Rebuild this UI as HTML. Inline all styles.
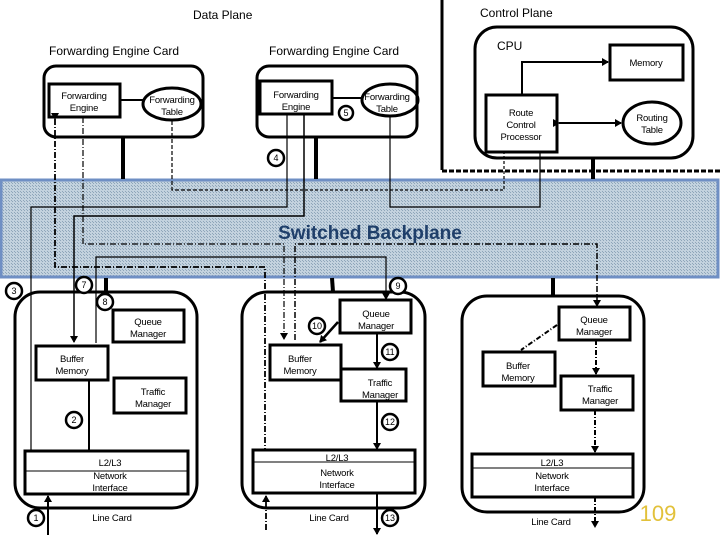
<!DOCTYPE html>
<html><head><meta charset="utf-8"><style>
html,body{margin:0;padding:0;background:#fff}
svg{display:block}
text{font-family:"Liberation Sans",sans-serif;fill:#000}
</style></head><body>
<svg width="720" height="540" viewBox="0 0 720 540" xmlns="http://www.w3.org/2000/svg">
<defs>
<pattern id="h" width="3" height="3" patternUnits="userSpaceOnUse">
<rect width="3" height="3" fill="#c3d2de"/><rect width="1" height="1" fill="#8fa6ba"/><rect x="2" y="2" width="1" height="1" fill="#8fa6ba"/>
</pattern>
<marker id="a" markerWidth="8" markerHeight="8" refX="6" refY="4" orient="auto" markerUnits="userSpaceOnUse"><path d="M0,0 L7,4 L0,8 z" fill="#000"/></marker>
</defs>

<rect x="1" y="180" width="717" height="97" fill="url(#h)" stroke="#6f8fc4" stroke-width="3"/>
<text x="370" y="239" text-anchor="middle" font-size="19" font-weight="bold" style="fill:#1f3f6a">Switched Backplane</text>

<g fill="none" stroke="#000">
<line x1="442" y1="0" x2="442" y2="170" stroke-width="3"/>
<line x1="442" y1="171" x2="720" y2="171" stroke-width="3" stroke-dasharray="5,2"/>

<rect x="44" y="66" width="159" height="71" rx="12" stroke-width="3"/>
<rect x="49" y="84" width="71" height="33" stroke-width="3"/>
<ellipse cx="172" cy="104" rx="29" ry="16" stroke-width="3"/>
<line x1="120" y1="100" x2="143" y2="100" stroke-width="2"/>
<line x1="123" y1="137" x2="123" y2="179" stroke-width="4"/>
<rect x="257" y="66" width="160" height="71" rx="12" stroke-width="3"/>
<rect x="260" y="81" width="72" height="33" stroke-width="3"/>
<ellipse cx="390" cy="100" rx="28" ry="16" stroke-width="3"/>
<line x1="332" y1="98" x2="362" y2="98" stroke-width="2"/>
<line x1="316" y1="137" x2="316" y2="179" stroke-width="4"/>

<rect x="475" y="27" width="218" height="131" rx="22" stroke-width="3"/>
<rect x="610" y="45" width="73" height="35" stroke-width="3"/>
<rect x="486" y="95" width="71" height="57" stroke-width="3"/>
<ellipse cx="652" cy="123" rx="29" ry="21" stroke-width="3"/>
<line x1="559" y1="123" x2="621" y2="123" stroke-width="2" marker-end="url(#a)" marker-start="url(#a)"/>
<polyline points="522,95 522,62 608,62" stroke-width="2" marker-end="url(#a)"/>
<line x1="593" y1="158" x2="593" y2="179" stroke-width="4"/>

<polyline points="172,121 172,190 200,190" stroke-width="1.2" stroke-dasharray="4,2"/>
<polyline points="200,190 504,190 504,152" stroke-width="1.2" stroke-dasharray="3,2"/>
<polyline points="390,117 390,207 540,207 540,152" stroke-width="1.2"/>
<polyline points="287,114 287,207 31,207 31,450" stroke-width="1.2"/>
<polyline points="304,114 304,216 74,216 74,342" stroke-width="1.5" marker-end="url(#a)"/>
<polyline points="83,117 83,244 284,244 284,339" stroke-width="1.2" stroke-dasharray="6,2,1,2" marker-end="url(#a)"/>
<polyline points="295,340 295,244 597,244 597,306" stroke-width="1.5" stroke-dasharray="6,2,1,2" marker-end="url(#a)"/>
<polyline points="55,119 55,267 265,267 265,450" stroke-width="1.8" stroke-dasharray="6,2,1,2" marker-start="url(#a)"/>
<polyline points="96,343 96,257 386,257 386,299" stroke-width="1.2" marker-end="url(#a)"/>

<rect x="15" y="292" width="182" height="216" rx="25" stroke-width="3"/>
<line x1="106" y1="278" x2="106" y2="292" stroke-width="4"/>
<rect x="113" y="310" width="71" height="32" stroke-width="3"/>
<rect x="36" y="346" width="72" height="34" stroke-width="3"/>
<rect x="114" y="378" width="72" height="35" stroke-width="3"/>
<line x1="89" y1="380" x2="89" y2="450" stroke-width="2"/>
<rect x="25" y="451" width="163" height="43" stroke-width="3"/>
<line x1="25" y1="471" x2="188" y2="471" stroke-width="1"/>
<line x1="48" y1="535" x2="48" y2="496" stroke-width="2" marker-end="url(#a)"/>

<rect x="242" y="292" width="183" height="216" rx="25" stroke-width="3"/>
<line x1="332" y1="278" x2="333" y2="292" stroke-width="4"/>
<rect x="340" y="300" width="71" height="33" stroke-width="3"/>
<rect x="270" y="345" width="71" height="35" stroke-width="3"/>
<rect x="341" y="369" width="65" height="32" stroke-width="3"/>
<line x1="338" y1="322" x2="320" y2="342" stroke-width="2.5" marker-end="url(#a)"/>
<line x1="377" y1="333" x2="377" y2="368" stroke-width="2" marker-end="url(#a)"/>
<line x1="377" y1="401" x2="377" y2="449" stroke-width="2" marker-end="url(#a)"/>
<rect x="253" y="450" width="162" height="43" stroke-width="3"/>
<line x1="253" y1="462" x2="415" y2="462" stroke-width="1"/>
<line x1="377" y1="493" x2="377" y2="534" stroke-width="2" marker-end="url(#a)"/>
<line x1="266" y1="530" x2="266" y2="496" stroke-width="1.8" stroke-dasharray="6,2,1,2" marker-end="url(#a)"/>

<rect x="462" y="296" width="182" height="216" rx="25" stroke-width="3"/>
<line x1="553" y1="278" x2="553" y2="296" stroke-width="4"/>
<rect x="559" y="307" width="71" height="33" stroke-width="3"/>
<rect x="483" y="352" width="72" height="34" stroke-width="3"/>
<rect x="561" y="376" width="72" height="34" stroke-width="3"/>
<line x1="557" y1="325" x2="521" y2="350" stroke-width="2" stroke-dasharray="5,2,1,2"/>
<line x1="596" y1="340" x2="596" y2="374" stroke-width="2" stroke-dasharray="5,2,1,2" marker-end="url(#a)"/>
<line x1="595" y1="410" x2="595" y2="452" stroke-width="2" stroke-dasharray="5,2,1,2" marker-end="url(#a)"/>
<rect x="472" y="454" width="161" height="43" stroke-width="3"/>
<line x1="472" y1="468" x2="633" y2="468" stroke-width="1"/>
<line x1="595" y1="497" x2="595" y2="527" stroke-width="2" stroke-dasharray="5,2,1,2" marker-end="url(#a)"/>

<g stroke-width="2.5" fill="#fff">
<circle cx="276" cy="158" r="8"/>
<circle cx="346" cy="113" r="7"/>
<circle cx="14" cy="291" r="8"/>
<circle cx="84" cy="285" r="8"/>
<circle cx="105" cy="302" r="8"/>
<circle cx="398" cy="286" r="8"/>
<circle cx="74" cy="420" r="8"/>
<circle cx="36" cy="518" r="8"/>
<circle cx="317" cy="326" r="8"/>
<circle cx="390" cy="352" r="8"/>
<circle cx="390" cy="422" r="8"/>
<circle cx="390" cy="518" r="8"/>
</g>
</g>

<g font-size="9" text-anchor="middle">
<text x="276" y="161">4</text><text x="346" y="116">5</text><text x="14" y="294">3</text>
<text x="84" y="288">7</text><text x="105" y="305">8</text><text x="398" y="289">9</text>
<text x="74" y="423">2</text><text x="36" y="521">1</text><text x="317" y="329">10</text>
<text x="390" y="355">11</text><text x="390" y="425">12</text><text x="390" y="521">13</text>
</g>

<g font-size="12">
<text x="193" y="19">Data Plane</text>
<text x="480" y="17">Control Plane</text>
<text x="49" y="55">Forwarding Engine Card</text>
<text x="269" y="55">Forwarding Engine Card</text>
<text x="497" y="50">CPU</text>
</g>
<g font-size="9.5" text-anchor="middle" letter-spacing="-0.2">
<text x="84" y="99">Forwarding</text><text x="84" y="111">Engine</text>
<text x="172" y="103">Forwarding</text><text x="172" y="115">Table</text>
<text x="296" y="98">Forwarding</text><text x="296" y="110">Engine</text>
<text x="387" y="100">Forwarding</text><text x="387" y="112">Table</text>
<text x="646" y="66">Memory</text>
<text x="521" y="116">Route</text><text x="521" y="128">Control</text><text x="521" y="140">Processor</text>
<text x="652" y="121">Routing</text><text x="652" y="133">Table</text>

<text x="148" y="325">Queue</text><text x="148" y="337">Manager</text>
<text x="72" y="362">Buffer</text><text x="72" y="374">Memory</text>
<text x="153" y="395">Traffic</text><text x="153" y="407">Manager</text>
<text x="110" y="466">L2/L3</text><text x="110" y="479">Network</text><text x="110" y="491">Interface</text>
<text x="112" y="521">Line Card</text>

<text x="376" y="317">Queue</text><text x="376" y="329">Manager</text>
<text x="300" y="362">Buffer</text><text x="300" y="374">Memory</text>
<text x="380" y="386">Traffic</text><text x="380" y="398">Manager</text>
<text x="337" y="461">L2/L3</text><text x="337" y="476">Network</text><text x="337" y="488">Interface</text>
<text x="329" y="521">Line Card</text>

<text x="594" y="323">Queue</text><text x="594" y="335">Manager</text>
<text x="518" y="369">Buffer</text><text x="518" y="381">Memory</text>
<text x="600" y="392">Traffic</text><text x="600" y="404">Manager</text>
<text x="552" y="466">L2/L3</text><text x="552" y="479">Network</text><text x="552" y="491">Interface</text>
<text x="551" y="525">Line Card</text>
</g>
<text x="658" y="521" font-size="22" text-anchor="middle" style="fill:#e2c13a">109</text>
</svg>
</body></html>
